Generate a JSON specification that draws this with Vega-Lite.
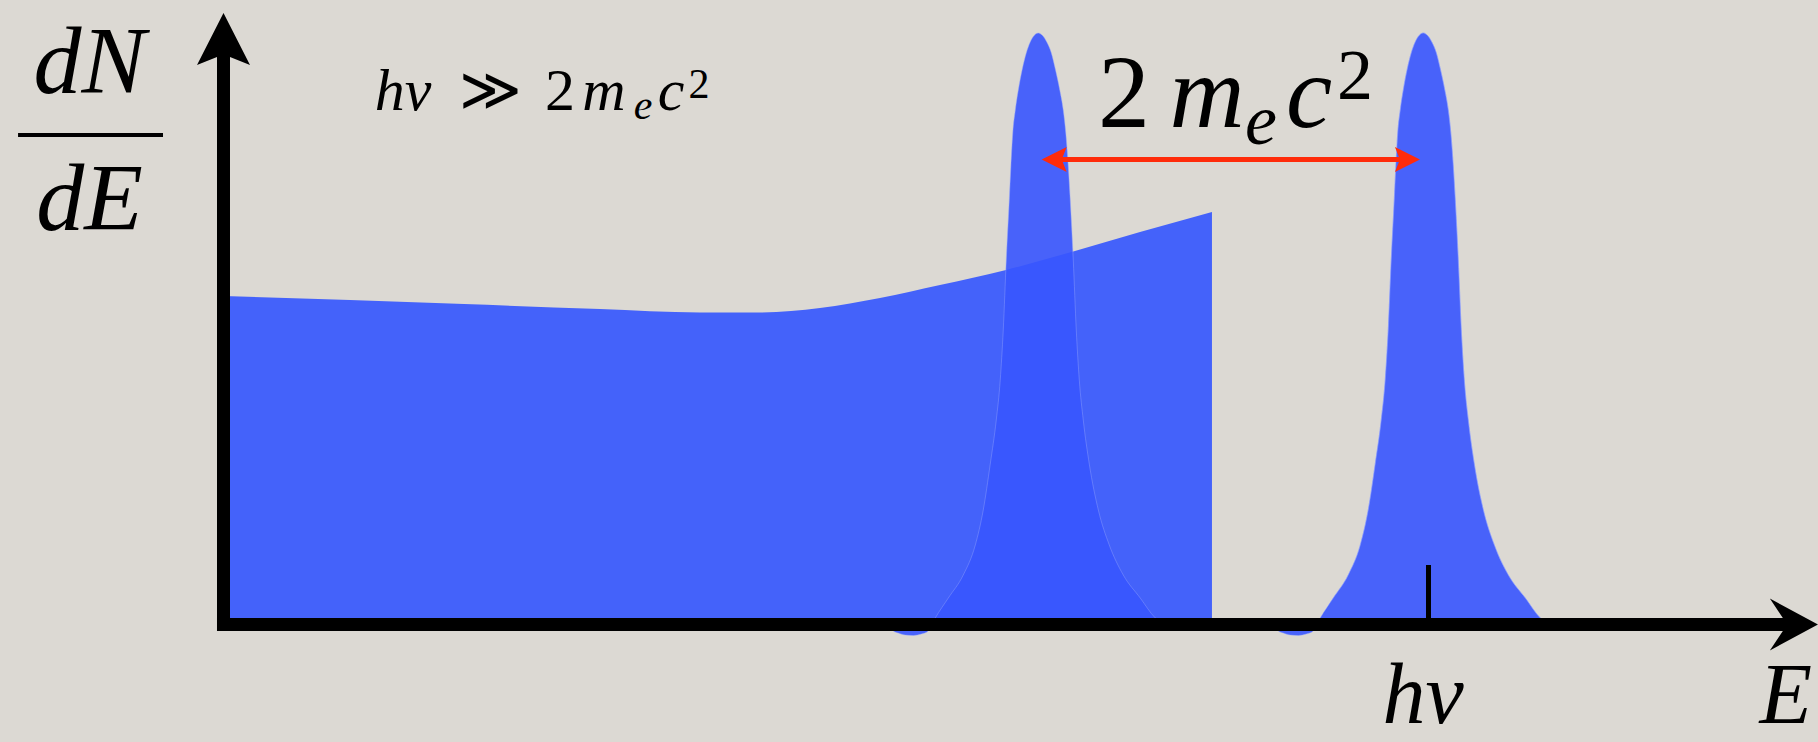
{
  "$schema": "https://vega.github.io/schema/vega-lite/v6.json",
  "description": "Pair-production detector response: Compton-like continuum plus full-energy and double-escape peaks separated by 2 m_e c^2.",
  "width": 1818,
  "height": 742,
  "padding": 0,
  "autosize": {"type": "none"},
  "background": "#dcd9d3",
  "config": {"view": {"stroke": null}},
  "datasets": {
    "continuum": [
      {"E": 0.000, "dNdE": 5.554},
      {"E": 1.050, "dNdE": 5.486},
      {"E": 1.996, "dNdE": 5.418},
      {"E": 3.124, "dNdE": 5.334},
      {"E": 3.954, "dNdE": 5.275},
      {"E": 4.452, "dNdE": 5.275},
      {"E": 4.950, "dNdE": 5.351},
      {"E": 5.448, "dNdE": 5.520},
      {"E": 5.946, "dNdE": 5.740},
      {"E": 6.494, "dNdE": 5.994},
      {"E": 7.066, "dNdE": 6.315},
      {"E": 7.606, "dNdE": 6.636},
      {"E": 8.203, "dNdE": 6.974}
    ],
    "peaks": [
      {"peak": "double escape", "E": 5.517, "dNdE": 0},
      {"peak": "double escape", "E": 5.559, "dNdE": -0.110},
      {"peak": "double escape", "E": 5.600, "dNdE": -0.144},
      {"peak": "double escape", "E": 5.658, "dNdE": -0.178},
      {"peak": "double escape", "E": 5.725, "dNdE": -0.186},
      {"peak": "double escape", "E": 5.791, "dNdE": -0.161},
      {"peak": "double escape", "E": 5.849, "dNdE": -0.110},
      {"peak": "double escape", "E": 5.907, "dNdE": 0.110},
      {"peak": "double escape", "E": 6.015, "dNdE": 0.448},
      {"peak": "double escape", "E": 6.139, "dNdE": 0.837},
      {"peak": "double escape", "E": 6.239, "dNdE": 1.344},
      {"peak": "double escape", "E": 6.305, "dNdE": 1.936},
      {"peak": "double escape", "E": 6.363, "dNdE": 2.713},
      {"peak": "double escape", "E": 6.413, "dNdE": 3.457},
      {"peak": "double escape", "E": 6.446, "dNdE": 4.133},
      {"peak": "double escape", "E": 6.471, "dNdE": 4.979},
      {"peak": "double escape", "E": 6.496, "dNdE": 6.162},
      {"peak": "double escape", "E": 6.521, "dNdE": 7.176},
      {"peak": "double escape", "E": 6.534, "dNdE": 7.734},
      {"peak": "double escape", "E": 6.550, "dNdE": 8.309},
      {"peak": "double escape", "E": 6.571, "dNdE": 8.698},
      {"peak": "double escape", "E": 6.596, "dNdE": 9.036},
      {"peak": "double escape", "E": 6.629, "dNdE": 9.391},
      {"peak": "double escape", "E": 6.662, "dNdE": 9.662},
      {"peak": "double escape", "E": 6.695, "dNdE": 9.848},
      {"peak": "double escape", "E": 6.729, "dNdE": 9.961},
      {"peak": "double escape", "E": 6.762, "dNdE": 10.000},
      {"peak": "double escape", "E": 6.795, "dNdE": 9.961},
      {"peak": "double escape", "E": 6.832, "dNdE": 9.848},
      {"peak": "double escape", "E": 6.870, "dNdE": 9.662},
      {"peak": "double escape", "E": 6.903, "dNdE": 9.391},
      {"peak": "double escape", "E": 6.940, "dNdE": 9.036},
      {"peak": "double escape", "E": 6.969, "dNdE": 8.698},
      {"peak": "double escape", "E": 6.990, "dNdE": 8.309},
      {"peak": "double escape", "E": 7.011, "dNdE": 7.734},
      {"peak": "double escape", "E": 7.027, "dNdE": 7.176},
      {"peak": "double escape", "E": 7.052, "dNdE": 6.162},
      {"peak": "double escape", "E": 7.077, "dNdE": 4.979},
      {"peak": "double escape", "E": 7.102, "dNdE": 4.133},
      {"peak": "double escape", "E": 7.135, "dNdE": 3.457},
      {"peak": "double escape", "E": 7.185, "dNdE": 2.713},
      {"peak": "double escape", "E": 7.260, "dNdE": 1.936},
      {"peak": "double escape", "E": 7.351, "dNdE": 1.344},
      {"peak": "double escape", "E": 7.467, "dNdE": 0.837},
      {"peak": "double escape", "E": 7.608, "dNdE": 0.448},
      {"peak": "double escape", "E": 7.733, "dNdE": 0.110},
      {"peak": "double escape", "E": 7.807, "dNdE": 0},
      {"peak": "full energy", "E": 8.712, "dNdE": 0},
      {"peak": "full energy", "E": 8.754, "dNdE": -0.110},
      {"peak": "full energy", "E": 8.795, "dNdE": -0.144},
      {"peak": "full energy", "E": 8.853, "dNdE": -0.178},
      {"peak": "full energy", "E": 8.920, "dNdE": -0.186},
      {"peak": "full energy", "E": 8.986, "dNdE": -0.161},
      {"peak": "full energy", "E": 9.044, "dNdE": -0.110},
      {"peak": "full energy", "E": 9.102, "dNdE": 0.110},
      {"peak": "full energy", "E": 9.210, "dNdE": 0.448},
      {"peak": "full energy", "E": 9.334, "dNdE": 0.837},
      {"peak": "full energy", "E": 9.434, "dNdE": 1.344},
      {"peak": "full energy", "E": 9.500, "dNdE": 1.936},
      {"peak": "full energy", "E": 9.558, "dNdE": 2.713},
      {"peak": "full energy", "E": 9.608, "dNdE": 3.457},
      {"peak": "full energy", "E": 9.641, "dNdE": 4.133},
      {"peak": "full energy", "E": 9.666, "dNdE": 4.979},
      {"peak": "full energy", "E": 9.691, "dNdE": 6.162},
      {"peak": "full energy", "E": 9.716, "dNdE": 7.176},
      {"peak": "full energy", "E": 9.729, "dNdE": 7.734},
      {"peak": "full energy", "E": 9.745, "dNdE": 8.309},
      {"peak": "full energy", "E": 9.766, "dNdE": 8.698},
      {"peak": "full energy", "E": 9.791, "dNdE": 9.036},
      {"peak": "full energy", "E": 9.824, "dNdE": 9.391},
      {"peak": "full energy", "E": 9.857, "dNdE": 9.662},
      {"peak": "full energy", "E": 9.890, "dNdE": 9.848},
      {"peak": "full energy", "E": 9.924, "dNdE": 9.961},
      {"peak": "full energy", "E": 9.957, "dNdE": 10.000},
      {"peak": "full energy", "E": 9.990, "dNdE": 9.961},
      {"peak": "full energy", "E": 10.027, "dNdE": 9.848},
      {"peak": "full energy", "E": 10.065, "dNdE": 9.662},
      {"peak": "full energy", "E": 10.098, "dNdE": 9.391},
      {"peak": "full energy", "E": 10.135, "dNdE": 9.036},
      {"peak": "full energy", "E": 10.164, "dNdE": 8.698},
      {"peak": "full energy", "E": 10.185, "dNdE": 8.309},
      {"peak": "full energy", "E": 10.206, "dNdE": 7.734},
      {"peak": "full energy", "E": 10.222, "dNdE": 7.176},
      {"peak": "full energy", "E": 10.247, "dNdE": 6.162},
      {"peak": "full energy", "E": 10.272, "dNdE": 4.979},
      {"peak": "full energy", "E": 10.297, "dNdE": 4.133},
      {"peak": "full energy", "E": 10.330, "dNdE": 3.457},
      {"peak": "full energy", "E": 10.380, "dNdE": 2.713},
      {"peak": "full energy", "E": 10.455, "dNdE": 1.936},
      {"peak": "full energy", "E": 10.546, "dNdE": 1.344},
      {"peak": "full energy", "E": 10.662, "dNdE": 0.837},
      {"peak": "full energy", "E": 10.803, "dNdE": 0.448},
      {"peak": "full energy", "E": 10.928, "dNdE": 0.110},
      {"peak": "full energy", "E": 11.002, "dNdE": 0}
    ],
    "labels": [
      {"group": "axis", "kind": "var", "text": "dN", "E": -1.112, "dNdE": 8.986},
      {"group": "axis", "kind": "var", "text": "dE", "E": -1.112, "dNdE": 6.670},
      {"group": "edge", "kind": "var", "text": "hν", "E": 9.954, "dNdE": -1.665},
      {"group": "edge", "kind": "end", "text": "E", "E": 13.183, "dNdE": -1.665},
      {"group": "condition", "kind": "var", "text": "hν", "E": 1.490, "dNdE": 8.698},
      {"group": "condition", "kind": "num", "text": "≫", "E": 2.212, "dNdE": 8.698},
      {"group": "condition", "kind": "num", "text": "2", "E": 2.793, "dNdE": 8.698},
      {"group": "condition", "kind": "var", "text": "m", "E": 3.158, "dNdE": 8.698},
      {"group": "condition", "kind": "sub", "text": "e", "E": 3.481, "dNdE": 8.546},
      {"group": "condition", "kind": "var", "text": "c", "E": 3.714, "dNdE": 8.698},
      {"group": "condition", "kind": "sup", "text": "2", "E": 3.946, "dNdE": 8.901},
      {"group": "gap", "kind": "num", "text": "2", "E": 7.473, "dNdE": 8.411},
      {"group": "gap", "kind": "var", "text": "m", "E": 8.162, "dNdE": 8.411},
      {"group": "gap", "kind": "sub", "text": "e", "E": 8.610, "dNdE": 8.123},
      {"group": "gap", "kind": "var", "text": "c", "E": 9.008, "dNdE": 8.411},
      {"group": "gap", "kind": "sup", "text": "2", "E": 9.390, "dNdE": 8.884}
    ]
  },
  "layer": [
    {
      "data": {"name": "continuum"},
      "mark": {"type": "area", "color": "#4462fa", "interpolate": "monotone"},
      "encoding": {
        "x": {"field": "E", "type": "quantitative", "scale": {"domain": [-1.85477, 13.23237], "nice": false, "zero": false}, "axis": null},
        "y": {"field": "dNdE", "type": "quantitative", "scale": {"domain": [-1.98647, 10.5579], "nice": false, "zero": false}, "axis": null}
      }
    },
    {
      "data": {"name": "peaks"},
      "mark": {"type": "area", "color": "#3856ff", "opacity": 0.9, "interpolate": "monotone", "stroke": "#9aa9ff", "strokeWidth": 1, "strokeOpacity": 0.45},
      "encoding": {
        "x": {"field": "E", "type": "quantitative", "scale": {"domain": [-1.85477, 13.23237], "nice": false, "zero": false}, "axis": null},
        "y": {"field": "dNdE", "type": "quantitative", "scale": {"domain": [-1.98647, 10.5579], "nice": false, "zero": false}, "axis": null},
        "detail": {"field": "peak", "type": "nominal"}
      }
    },
    {
      "data": {"values": [{"E": -0.054, "E2": 13.0, "dNdE": 0}]},
      "mark": {"type": "rule", "color": "black", "strokeWidth": 13, "strokeCap": "butt"},
      "encoding": {
        "x": {"field": "E", "type": "quantitative", "scale": {"domain": [-1.85477, 13.23237], "nice": false, "zero": false}, "axis": null},
        "x2": {"field": "E2"},
        "y": {"field": "dNdE", "type": "quantitative", "scale": {"domain": [-1.98647, 10.5579], "nice": false, "zero": false}, "axis": null}
      }
    },
    {
      "data": {"values": [{"E": 0, "dNdE": -0.11, "dNdE2": 9.713}]},
      "mark": {"type": "rule", "color": "black", "strokeWidth": 13, "strokeCap": "butt"},
      "encoding": {
        "x": {"field": "E", "type": "quantitative", "scale": {"domain": [-1.85477, 13.23237], "nice": false, "zero": false}, "axis": null},
        "y": {"field": "dNdE", "type": "quantitative", "scale": {"domain": [-1.98647, 10.5579], "nice": false, "zero": false}, "axis": null},
        "y2": {"field": "dNdE2"}
      }
    },
    {
      "data": {"values": [{"E": 13.232, "dNdE": 0}]},
      "mark": {"type": "point", "filled": true, "color": "black", "opacity": 1, "size": 2704, "shape": "M0,0L-1.85,-1L-1.35,-0.25L-1.35,0.25L-1.85,1Z"},
      "encoding": {
        "x": {"field": "E", "type": "quantitative", "scale": {"domain": [-1.85477, 13.23237], "nice": false, "zero": false}, "axis": null},
        "y": {"field": "dNdE", "type": "quantitative", "scale": {"domain": [-1.98647, 10.5579], "nice": false, "zero": false}, "axis": null}
      }
    },
    {
      "data": {"values": [{"E": 0, "dNdE": 10.338}]},
      "mark": {"type": "point", "filled": true, "color": "black", "opacity": 1, "size": 2809, "shape": "M0,0L1,1.96L0.245,1.66L-0.245,1.66L-1,1.96Z"},
      "encoding": {
        "x": {"field": "E", "type": "quantitative", "scale": {"domain": [-1.85477, 13.23237], "nice": false, "zero": false}, "axis": null},
        "y": {"field": "dNdE", "type": "quantitative", "scale": {"domain": [-1.98647, 10.5579], "nice": false, "zero": false}, "axis": null}
      }
    },
    {
      "data": {"values": [{"E": 10.0, "dNdE": 0, "dNdE2": 1.006}]},
      "mark": {"type": "rule", "color": "black", "strokeWidth": 5, "strokeCap": "butt"},
      "encoding": {
        "x": {"field": "E", "type": "quantitative", "scale": {"domain": [-1.85477, 13.23237], "nice": false, "zero": false}, "axis": null},
        "y": {"field": "dNdE", "type": "quantitative", "scale": {"domain": [-1.98647, 10.5579], "nice": false, "zero": false}, "axis": null},
        "y2": {"field": "dNdE2"}
      }
    },
    {
      "data": {"values": [{"E": 6.94, "E2": 9.78, "dNdE": 7.861}]},
      "mark": {"type": "rule", "color": "#ff2b0a", "strokeWidth": 5, "strokeCap": "butt"},
      "encoding": {
        "x": {"field": "E", "type": "quantitative", "scale": {"domain": [-1.85477, 13.23237], "nice": false, "zero": false}, "axis": null},
        "x2": {"field": "E2"},
        "y": {"field": "dNdE", "type": "quantitative", "scale": {"domain": [-1.98647, 10.5579], "nice": false, "zero": false}, "axis": null}
      }
    },
    {
      "data": {"values": [{"E": 6.79, "dNdE": 7.861}]},
      "mark": {"type": "point", "filled": true, "color": "#ff2b0a", "opacity": 1, "size": 625, "shape": "M0,0L2,-1L1.6,0L2,1Z"},
      "encoding": {
        "x": {"field": "E", "type": "quantitative", "scale": {"domain": [-1.85477, 13.23237], "nice": false, "zero": false}, "axis": null},
        "y": {"field": "dNdE", "type": "quantitative", "scale": {"domain": [-1.98647, 10.5579], "nice": false, "zero": false}, "axis": null}
      }
    },
    {
      "data": {"values": [{"E": 9.929, "dNdE": 7.861}]},
      "mark": {"type": "point", "filled": true, "color": "#ff2b0a", "opacity": 1, "size": 625, "shape": "M0,0L-2,-1L-1.6,0L-2,1Z"},
      "encoding": {
        "x": {"field": "E", "type": "quantitative", "scale": {"domain": [-1.85477, 13.23237], "nice": false, "zero": false}, "axis": null},
        "y": {"field": "dNdE", "type": "quantitative", "scale": {"domain": [-1.98647, 10.5579], "nice": false, "zero": false}, "axis": null}
      }
    },
    {
      "data": {"values": [{"E": -1.705, "E2": -0.502, "dNdE": 8.276}]},
      "mark": {"type": "rule", "color": "black", "strokeWidth": 4, "strokeCap": "butt"},
      "encoding": {
        "x": {"field": "E", "type": "quantitative", "scale": {"domain": [-1.85477, 13.23237], "nice": false, "zero": false}, "axis": null},
        "x2": {"field": "E2"},
        "y": {"field": "dNdE", "type": "quantitative", "scale": {"domain": [-1.98647, 10.5579], "nice": false, "zero": false}, "axis": null}
      }
    },
    {
      "data": {"name": "labels"},
      "transform": [{"filter": "datum.group === 'axis'"}],
      "mark": {"type": "text", "font": "Liberation Serif", "fontStyle": "italic", "fontSize": 96, "align": "center", "baseline": "alphabetic", "color": "black"},
      "encoding": {
        "x": {"field": "E", "type": "quantitative", "scale": {"domain": [-1.85477, 13.23237], "nice": false, "zero": false}, "axis": null},
        "y": {"field": "dNdE", "type": "quantitative", "scale": {"domain": [-1.98647, 10.5579], "nice": false, "zero": false}, "axis": null},
        "text": {"field": "text"}
      }
    },
    {
      "data": {"name": "labels"},
      "transform": [{"filter": "datum.group === 'edge' && datum.kind === 'var'"}],
      "mark": {"type": "text", "font": "Liberation Serif", "fontStyle": "italic", "fontSize": 86, "align": "center", "baseline": "alphabetic", "color": "black"},
      "encoding": {
        "x": {"field": "E", "type": "quantitative", "scale": {"domain": [-1.85477, 13.23237], "nice": false, "zero": false}, "axis": null},
        "y": {"field": "dNdE", "type": "quantitative", "scale": {"domain": [-1.98647, 10.5579], "nice": false, "zero": false}, "axis": null},
        "text": {"field": "text"}
      }
    },
    {
      "data": {"name": "labels"},
      "transform": [{"filter": "datum.group === 'edge' && datum.kind === 'end'"}],
      "mark": {"type": "text", "font": "Liberation Serif", "fontStyle": "italic", "fontSize": 86, "align": "right", "baseline": "alphabetic", "color": "black"},
      "encoding": {
        "x": {"field": "E", "type": "quantitative", "scale": {"domain": [-1.85477, 13.23237], "nice": false, "zero": false}, "axis": null},
        "y": {"field": "dNdE", "type": "quantitative", "scale": {"domain": [-1.98647, 10.5579], "nice": false, "zero": false}, "axis": null},
        "text": {"field": "text"}
      }
    },
    {
      "data": {"name": "labels"},
      "transform": [{"filter": "datum.group === 'condition' && datum.kind === 'var'"}],
      "mark": {"type": "text", "font": "Liberation Serif", "fontStyle": "italic", "fontSize": 60, "align": "center", "baseline": "alphabetic", "color": "black"},
      "encoding": {
        "x": {"field": "E", "type": "quantitative", "scale": {"domain": [-1.85477, 13.23237], "nice": false, "zero": false}, "axis": null},
        "y": {"field": "dNdE", "type": "quantitative", "scale": {"domain": [-1.98647, 10.5579], "nice": false, "zero": false}, "axis": null},
        "text": {"field": "text"}
      }
    },
    {
      "data": {"name": "labels"},
      "transform": [{"filter": "datum.group === 'condition' && datum.kind === 'num'"}],
      "mark": {"type": "text", "font": "Liberation Serif", "fontSize": 60, "align": "center", "baseline": "alphabetic", "color": "black"},
      "encoding": {
        "x": {"field": "E", "type": "quantitative", "scale": {"domain": [-1.85477, 13.23237], "nice": false, "zero": false}, "axis": null},
        "y": {"field": "dNdE", "type": "quantitative", "scale": {"domain": [-1.98647, 10.5579], "nice": false, "zero": false}, "axis": null},
        "text": {"field": "text"}
      }
    },
    {
      "data": {"name": "labels"},
      "transform": [{"filter": "datum.group === 'condition' && datum.kind === 'sub'"}],
      "mark": {"type": "text", "font": "Liberation Serif", "fontStyle": "italic", "fontSize": 42, "align": "center", "baseline": "alphabetic", "color": "black"},
      "encoding": {
        "x": {"field": "E", "type": "quantitative", "scale": {"domain": [-1.85477, 13.23237], "nice": false, "zero": false}, "axis": null},
        "y": {"field": "dNdE", "type": "quantitative", "scale": {"domain": [-1.98647, 10.5579], "nice": false, "zero": false}, "axis": null},
        "text": {"field": "text"}
      }
    },
    {
      "data": {"name": "labels"},
      "transform": [{"filter": "datum.group === 'condition' && datum.kind === 'sup'"}],
      "mark": {"type": "text", "font": "Liberation Serif", "fontSize": 42, "align": "center", "baseline": "alphabetic", "color": "black"},
      "encoding": {
        "x": {"field": "E", "type": "quantitative", "scale": {"domain": [-1.85477, 13.23237], "nice": false, "zero": false}, "axis": null},
        "y": {"field": "dNdE", "type": "quantitative", "scale": {"domain": [-1.98647, 10.5579], "nice": false, "zero": false}, "axis": null},
        "text": {"field": "text"}
      }
    },
    {
      "data": {"name": "labels"},
      "transform": [{"filter": "datum.group === 'gap' && datum.kind === 'var'"}],
      "mark": {"type": "text", "font": "Liberation Serif", "fontStyle": "italic", "fontSize": 104, "align": "center", "baseline": "alphabetic", "color": "black"},
      "encoding": {
        "x": {"field": "E", "type": "quantitative", "scale": {"domain": [-1.85477, 13.23237], "nice": false, "zero": false}, "axis": null},
        "y": {"field": "dNdE", "type": "quantitative", "scale": {"domain": [-1.98647, 10.5579], "nice": false, "zero": false}, "axis": null},
        "text": {"field": "text"}
      }
    },
    {
      "data": {"name": "labels"},
      "transform": [{"filter": "datum.group === 'gap' && datum.kind === 'num'"}],
      "mark": {"type": "text", "font": "Liberation Serif", "fontSize": 104, "align": "center", "baseline": "alphabetic", "color": "black"},
      "encoding": {
        "x": {"field": "E", "type": "quantitative", "scale": {"domain": [-1.85477, 13.23237], "nice": false, "zero": false}, "axis": null},
        "y": {"field": "dNdE", "type": "quantitative", "scale": {"domain": [-1.98647, 10.5579], "nice": false, "zero": false}, "axis": null},
        "text": {"field": "text"}
      }
    },
    {
      "data": {"name": "labels"},
      "transform": [{"filter": "datum.group === 'gap' && datum.kind === 'sub'"}],
      "mark": {"type": "text", "font": "Liberation Serif", "fontStyle": "italic", "fontSize": 72, "align": "center", "baseline": "alphabetic", "color": "black"},
      "encoding": {
        "x": {"field": "E", "type": "quantitative", "scale": {"domain": [-1.85477, 13.23237], "nice": false, "zero": false}, "axis": null},
        "y": {"field": "dNdE", "type": "quantitative", "scale": {"domain": [-1.98647, 10.5579], "nice": false, "zero": false}, "axis": null},
        "text": {"field": "text"}
      }
    },
    {
      "data": {"name": "labels"},
      "transform": [{"filter": "datum.group === 'gap' && datum.kind === 'sup'"}],
      "mark": {"type": "text", "font": "Liberation Serif", "fontSize": 72, "align": "center", "baseline": "alphabetic", "color": "black"},
      "encoding": {
        "x": {"field": "E", "type": "quantitative", "scale": {"domain": [-1.85477, 13.23237], "nice": false, "zero": false}, "axis": null},
        "y": {"field": "dNdE", "type": "quantitative", "scale": {"domain": [-1.98647, 10.5579], "nice": false, "zero": false}, "axis": null},
        "text": {"field": "text"}
      }
    }
  ]
}
